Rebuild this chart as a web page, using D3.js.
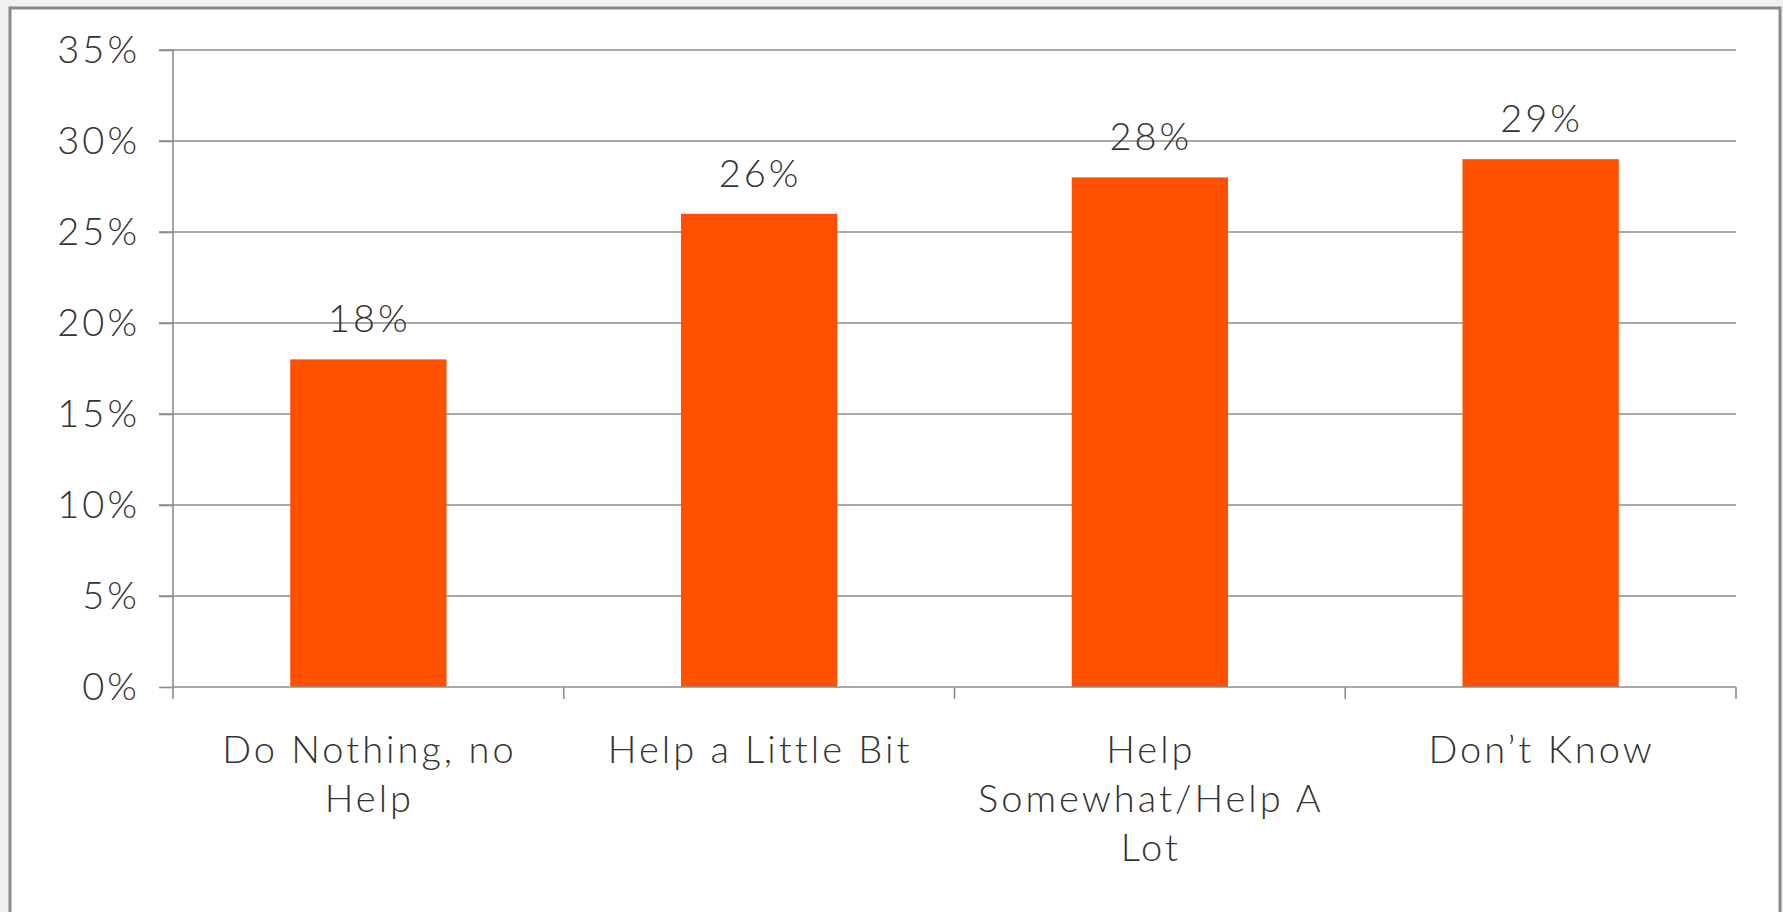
<!DOCTYPE html>
<html>
<head>
<meta charset="utf-8">
<script src="https://cdn.jsdelivr.net/npm/d3@7"></script>
<style>
  body { margin: 0; background: #f1f1f1; }
  svg { display: block; }
  text { font-family: Lato, "Open Sans", sans-serif; font-weight: 300; fill: #333; letter-spacing: 3px; }
</style>
</head>
<body>
<svg width="1783" height="912"></svg>
<script>
// chart data
var categories = ["Do Nothing, no\nHelp", "Help a Little Bit", "Help\nSomewhat/Help A\nLot", "Don\u2019t Know"];
var values = [18, 26, 28, 29];
var yTicks = [0, 5, 10, 15, 20, 25, 30, 35];

var svg = d3.select("svg"),
    width = +svg.attr("width"),
    height = +svg.attr("height");

var margin = { top: 50, right: 47, bottom: 225, left: 173 };
var w = width - margin.left - margin.right,
    h = height - margin.top - margin.bottom;

// white frame
svg.append("rect")
    .attr("x", 10).attr("y", 8)
    .attr("width", 1770).attr("height", 930)
    .attr("fill", "#fff")
    .attr("stroke", "#8a8a8a")
    .attr("stroke-width", 3);

var g = svg.append("g")
    .attr("transform", "translate(" + margin.left + "," + margin.top + ")");

var x = d3.scaleBand().domain(categories).range([0, w]).paddingInner(0.6).paddingOuter(0.3);
var y = d3.scaleLinear().domain([0, 35]).range([h, 0]);

// gridlines
g.append("g")
  .selectAll("line")
  .data(yTicks.slice(1))
  .enter().append("line")
    .attr("x1", -14).attr("x2", w)
    .attr("y1", d => y(d)).attr("y2", d => y(d))
    .attr("stroke", "#8c8c8c")
    .attr("stroke-width", 1.6);

// y axis
var yAxis = g.append("g")
    .call(d3.axisLeft(y).tickValues(yTicks).tickFormat(d => d + "%").tickSize(14).tickPadding(19));
yAxis.select(".domain").remove();
yAxis.selectAll("line").attr("stroke", "#8c8c8c").attr("stroke-width", 1.6);
yAxis.selectAll("text")
    .attr("font-size", 38)
    .attr("font-family", null)
    .attr("fill", null);

// bars
g.selectAll("rect.bar")
  .data(values)
  .enter().append("rect")
    .attr("class", "bar")
    .attr("x", (d, i) => x(categories[i]))
    .attr("y", d => y(d))
    .attr("width", x.bandwidth())
    .attr("height", d => h - y(d))
    .attr("fill", "#ff5000");

// value labels
g.selectAll("text.val")
  .data(values)
  .enter().append("text")
    .attr("class", "val")
    .attr("x", (d, i) => x(categories[i]) + x.bandwidth() / 2 + 1)
    .attr("y", d => y(d) - 27)
    .attr("text-anchor", "middle")
    .attr("font-size", 38)
    .text(d => d + "%");

// x axis: baseline, category dividers
var xb = d3.scaleLinear().domain([0, categories.length]).range([0, w]);
g.append("line")
    .attr("x1", 0).attr("x2", w)
    .attr("y1", h).attr("y2", h)
    .attr("stroke", "#8c8c8c").attr("stroke-width", 1.6);
g.append("line")
    .attr("x1", 0).attr("x2", 0)
    .attr("y1", 0).attr("y2", h + 12)
    .attr("stroke", "#8c8c8c").attr("stroke-width", 1.6);
g.append("g")
  .selectAll("line")
  .data(d3.range(1, categories.length + 1))
  .enter().append("line")
    .attr("x1", d => xb(d)).attr("x2", d => xb(d))
    .attr("y1", h).attr("y2", h + 12)
    .attr("stroke", "#8c8c8c").attr("stroke-width", 1.6);

// category labels
var cat = g.selectAll("text.cat")
  .data(categories)
  .enter().append("text")
    .attr("class", "cat")
    .attr("text-anchor", "middle")
    .attr("font-size", 38)
    .attr("transform", d => "translate(" + (x(d) + x.bandwidth() / 2 + 1) + "," + (h + 76) + ")");

cat.selectAll("tspan")
  .data(d => d.split("\n"))
  .enter().append("tspan")
    .attr("x", 0)
    .attr("y", (d, i) => i * 49)
    .text(d => d);
</script>
</body>
</html>
